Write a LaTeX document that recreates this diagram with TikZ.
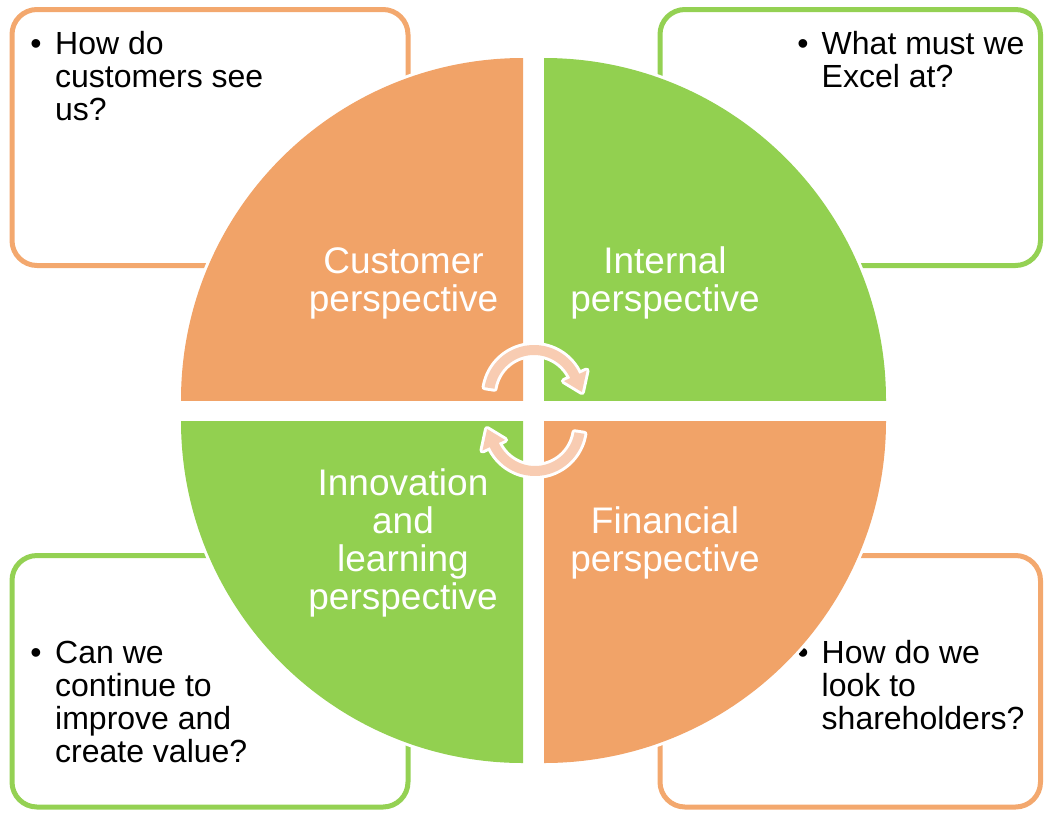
\documentclass[tikz,border=0pt]{standalone}
\usepackage{fontspec}
\setmainfont{Liberation Sans}
\definecolor{qorange}{RGB}{241,163,104}
\definecolor{qgreen}{RGB}{146,208,80}
\definecolor{borange}{RGB}{243,168,110}
\definecolor{bgreen}{RGB}{148,209,83}
\definecolor{apink}{RGB}{248,204,178}
\begin{document}
\begin{tikzpicture}[x=1pt,y=-1pt,
  qbox/.style={line width=5pt, rounded corners=25pt},
  btext/.style={anchor=base west, inner sep=0pt, text=black, font=\fontsize{32}{33}\selectfont},
  bullet/.style={anchor=base, inner sep=0pt, text=black, font=\fontsize{32}{33}\selectfont},
  qtext/.style={anchor=base, inner sep=0pt, text=white, font=\fontsize{37}{37.5}\selectfont},
  halo/.style={preaction={draw=white, line width=6pt}},
  cyc/.style={fill=apink, preaction={draw=white, line width=6pt, line join=round}}]
\useasboundingbox (0,0) rectangle (1044,812);

% question boxes
\draw[qbox, draw=borange] (12,9.5) rectangle (408,265.5);
\draw[qbox, draw=bgreen] (660,9.5) rectangle (1040.5,265.5);
\draw[qbox, draw=bgreen] (12,555.5) rectangle (408,807);
\draw[qbox, draw=borange] (660,555.5) rectangle (1040.5,807);

\node[bullet] (b1) at (36,54.3) {•};
\node[btext] (t1) at (55,54.3) {\begin{tabular}[t]{@{}l@{}}How do\\customers see\\us?\end{tabular}};
\node[bullet] (b2) at (803,54.3) {•};
\node[btext] (t2) at (821.5,54.3) {\begin{tabular}[t]{@{}l@{}}What must we\\Excel at?\end{tabular}};
\node[bullet] (b3) at (36,663) {•};
\node[btext] (t3) at (55,663) {\begin{tabular}[t]{@{}l@{}}Can we\\continue to\\improve and\\create value?\end{tabular}};
\node[bullet] (b4) at (803,663.3) {•};
\node[btext] (t4) at (821.5,663.3) {\begin{tabular}[t]{@{}l@{}}How do we\\look to\\shareholders?\end{tabular}};

% quadrants
\begin{scope}
  \clip (150,30) rectangle (523,400);
  \fill[qorange, halo] (523,400) circle[radius=342];
\end{scope}
\begin{scope}
  \clip (544,30) rectangle (910,400);
  \fill[qgreen, halo] (544,400) circle[radius=342];
\end{scope}
\begin{scope}
  \clip (150,421) rectangle (523,790);
  \fill[qgreen, halo] (523,421) circle[radius=342];
\end{scope}
\begin{scope}
  \clip (544,421) rectangle (910,790);
  \fill[qorange, halo] (544,421) circle[radius=342];
\end{scope}

\node[qtext] (q1) at (403.5,273) {\begin{tabular}[t]{@{}c@{}}Customer\\perspective\end{tabular}};
\node[qtext] (q2) at (665,273) {\begin{tabular}[t]{@{}c@{}}Internal\\perspective\end{tabular}};
\node[qtext] (q3) at (403,495.5) {\begin{tabular}[t]{@{}c@{}}Innovation\\and\\learning\\perspective\end{tabular}};
\node[qtext] (q4) at (665,533.5) {\begin{tabular}[t]{@{}c@{}}Financial\\perspective\end{tabular}};

% circular arrows
\begin{scope}[shift={(534,395)}]
  \path[cyc] plot[domain=-171:-25, samples=40] (\x:50) -- (-25:58) -- (-3.6:48) -- (-25:33) -- (-25:40)
    -- plot[domain=-25:-171, samples=40] (\x:40) -- cycle;
\end{scope}
\begin{scope}[shift={(535,426)}, rotate=180]
  \path[cyc] plot[domain=-171:-25, samples=40] (\x:50) -- (-25:58) -- (-3.6:48) -- (-25:33) -- (-25:40)
    -- plot[domain=-25:-171, samples=40] (\x:40) -- cycle;
\end{scope}
\end{tikzpicture}
\end{document}
